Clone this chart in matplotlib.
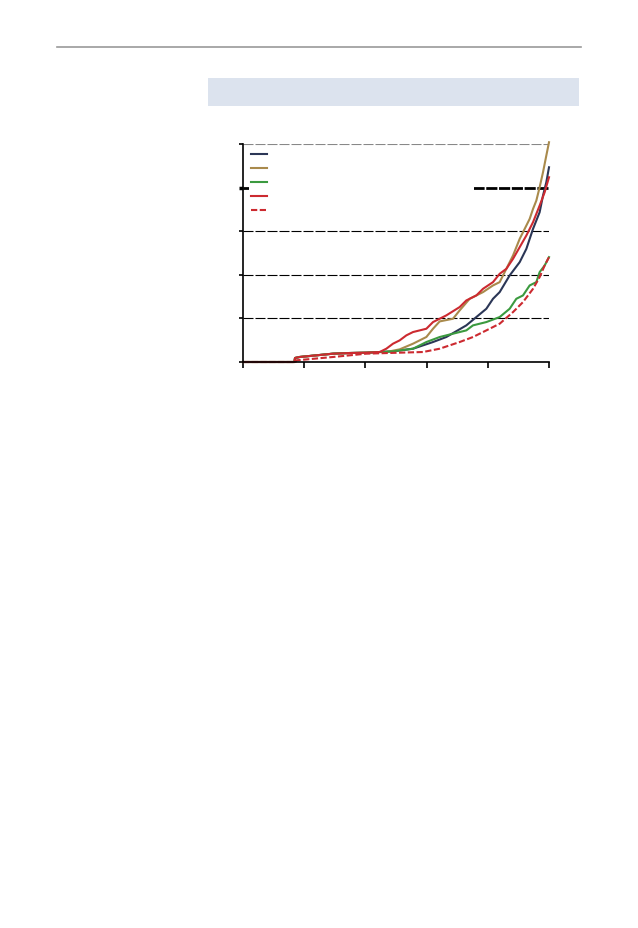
import matplotlib
matplotlib.use("Agg")
import matplotlib.pyplot as plt
from matplotlib.lines import Line2D
from matplotlib.patches import Rectangle

# ---- data ----
base_x = [0.0, 0.84, 0.85, 0.926, 1.198, 1.471, 1.743, 2.015, 2.233]
base_y = [0.0, 0.0, 0.092, 0.115, 0.153, 0.191, 0.206, 0.214, 0.229]

navy_x = base_x + [2.451, 2.778, 3.105, 3.322, 3.649, 3.813, 3.976, 4.085, 4.194, 4.357, 4.521, 4.630, 4.739, 4.847, 4.902, 4.956, 5.0]
navy_y = base_y + [0.244, 0.305, 0.458, 0.573, 0.840, 1.031, 1.221, 1.450, 1.603, 1.985, 2.290, 2.595, 3.053, 3.435, 3.817, 4.122, 4.466]

gold_x = base_x + [2.342, 2.560, 2.778, 2.996, 3.105, 3.214, 3.431, 3.540, 3.704, 3.922, 4.085, 4.194, 4.303, 4.412, 4.521, 4.630, 4.684, 4.739, 4.793, 4.847, 4.902, 4.956, 5.0]
gold_y = base_y + [0.229, 0.290, 0.420, 0.573, 0.763, 0.931, 0.992, 1.183, 1.450, 1.603, 1.756, 1.832, 2.137, 2.443, 2.824, 3.130, 3.282, 3.511, 3.702, 4.008, 4.351, 4.733, 5.04]

green_x = base_x + [2.451, 2.778, 2.996, 3.214, 3.431, 3.649, 3.758, 3.976, 4.194, 4.357, 4.466, 4.575, 4.684, 4.793, 4.847, 4.929, 5.0]
green_y = base_y + [0.244, 0.305, 0.458, 0.573, 0.649, 0.725, 0.840, 0.916, 1.031, 1.221, 1.450, 1.527, 1.756, 1.832, 2.061, 2.214, 2.405]

red_x = base_x + [2.342, 2.451, 2.560, 2.669, 2.778, 2.996, 3.105, 3.322, 3.540, 3.649, 3.813, 3.922, 4.085, 4.194, 4.303, 4.412, 4.521, 4.630, 4.739, 4.847, 4.929, 5.0]
red_y = base_y + [0.305, 0.420, 0.496, 0.611, 0.687, 0.763, 0.916, 1.069, 1.260, 1.412, 1.527, 1.679, 1.832, 2.023, 2.137, 2.366, 2.634, 2.901, 3.206, 3.588, 3.893, 4.237]

reddash_x = [0.0, 0.86, 0.871, 1.471, 2.015, 2.560, 2.941, 3.214, 3.540, 3.758, 3.976, 4.194, 4.412, 4.575, 4.739, 4.847, 4.929, 5.0]
reddash_y = [0.0, 0.0, 0.038, 0.115, 0.191, 0.214, 0.229, 0.305, 0.458, 0.573, 0.725, 0.878, 1.145, 1.374, 1.679, 1.947, 2.214, 2.405]

x_ticks = [0, 1, 2, 3, 4, 5]
y_ticks = [0, 1, 2, 3, 4, 5]

NAVY = "#2b3656"
GOLD = "#a98a4c"
GREEN = "#3b9a3f"
RED = "#cc2a30"

fig = plt.figure(figsize=(6.38, 9.29), dpi=100)

# page decorations
fig.add_artist(Line2D([57/638, 581/638], [1-48/929, 1-48/929], color="#9a9a9a", lw=1.2, transform=fig.transFigure))
fig.add_artist(Rectangle((208/638, 1-107/929), (579-208)/638, 28/929, transform=fig.transFigure,
                         facecolor="#dce3ee", edgecolor="none"))

ax = fig.add_axes([243/638, 1-363/929, 306/638, 218/929])
ax.set_xlim(0, 5)
ax.set_ylim(0, 5)
ax.set_xticks(x_ticks)
ax.set_yticks(y_ticks)
ax.set_xticklabels([])
ax.set_yticklabels([])
for s in ["top", "right"]:
    ax.spines[s].set_visible(False)
ax.spines["left"].set_linewidth(1.2)
ax.spines["bottom"].set_linewidth(1.2)
ax.tick_params(axis="x", direction="out", length=4, width=1.2)
ax.tick_params(axis="y", direction="out", length=3, width=1.2)
ax.yaxis.grid(True, color="black", lw=0.8, linestyle=(0, (9, 1.8)))
ax.set_axisbelow(True)
gl = ax.yaxis.get_gridlines()
gl[4].set_linewidth(2.0)
gl[4].set_linestyle((0, (4, 0.6)))
gl[5].set_color("#888888")
ax.yaxis.get_major_ticks()[4].tick1line.set_markeredgewidth(2.5)

lw = 1.5
h1, = ax.plot(navy_x, navy_y, color=NAVY, lw=lw, clip_on=False)
h2, = ax.plot(gold_x, gold_y, color=GOLD, lw=lw, clip_on=False)
h3, = ax.plot(green_x, green_y, color=GREEN, lw=lw, clip_on=False)
h4, = ax.plot(red_x, red_y, color=RED, lw=lw, clip_on=False)
h5, = ax.plot(reddash_x, reddash_y, color=RED, lw=lw, linestyle=(0, (3, 1.2)), clip_on=False)

leg = ax.legend([h1, h2, h3, h4, h5], [""] * 5, loc="upper left",
                bbox_to_anchor=(0.02, 0.982, 0.735, 0.0), mode="expand",
                frameon=True, fancybox=False, edgecolor="none", facecolor="white", framealpha=1,
                fontsize=7, handlelength=1.6, handletextpad=0.3, labelspacing=0.41,
                borderpad=0.2, borderaxespad=0.0)

fig.savefig("out.png", dpi=100)
